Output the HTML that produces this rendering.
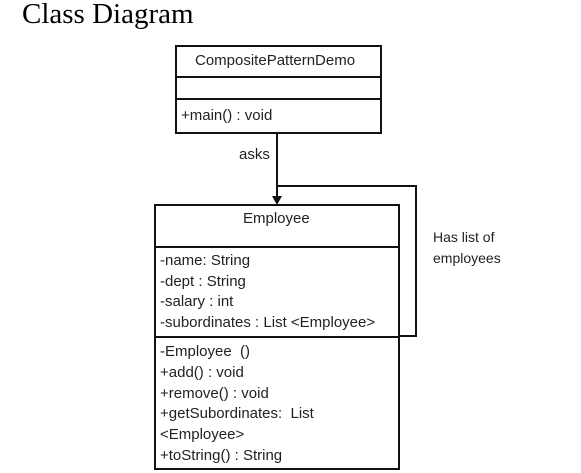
<!DOCTYPE html>
<html><head><style>
body{margin:0;width:581px;height:473px;background:#fff;position:relative;overflow:hidden;font-family:"Liberation Sans",sans-serif;}
.t{position:absolute;font-size:15px;color:#222;white-space:nowrap;}
</style></head><body>
<div style="position:absolute;left:22px;top:-2px;font-family:'Liberation Serif',serif;font-size:29px;color:#000;">Class Diagram</div>
<svg width="581" height="473" style="position:absolute;left:0;top:0">
<g fill="none" stroke="#111" stroke-width="2">
<rect x="176" y="46" width="205" height="87"/>
<line x1="176" y1="77" x2="381" y2="77"/>
<line x1="176" y1="99" x2="381" y2="99"/>
<rect x="155" y="205" width="244" height="264"/>
<line x1="155" y1="247" x2="399" y2="247"/>
<line x1="155" y1="337" x2="399" y2="337"/>
<line x1="277" y1="133" x2="277" y2="200"/>
<polyline points="277,186 416,186 416,336 399,336"/>
</g>
<polygon points="272,196 282,196 277,205" fill="#111"/>
</svg>
<div class="t" style="left:195px;top:52px;">CompositePatternDemo</div>
<div class="t" style="left:181px;top:107px;">+main() : void</div>
<div class="t" style="left:239px;top:146px;">asks</div>
<div class="t" style="left:243px;top:210px;">Employee</div>
<div class="t" style="left:433px;top:227px;line-height:21px;font-size:14px;">Has list of<br>employees</div>
<div class="t" style="left:160px;top:251px;line-height:20.5px;">-name: String<br>-dept : String<br>-salary : int<br>-subordinates : List &lt;Employee&gt;</div>
<div class="t" style="left:160px;top:342px;line-height:20.8px;">-Employee &nbsp;()<br>+add() : void<br>+remove() : void<br>+getSubordinates: &nbsp;List<br>&lt;Employee&gt;<br>+toString() : String</div>
</body></html>
